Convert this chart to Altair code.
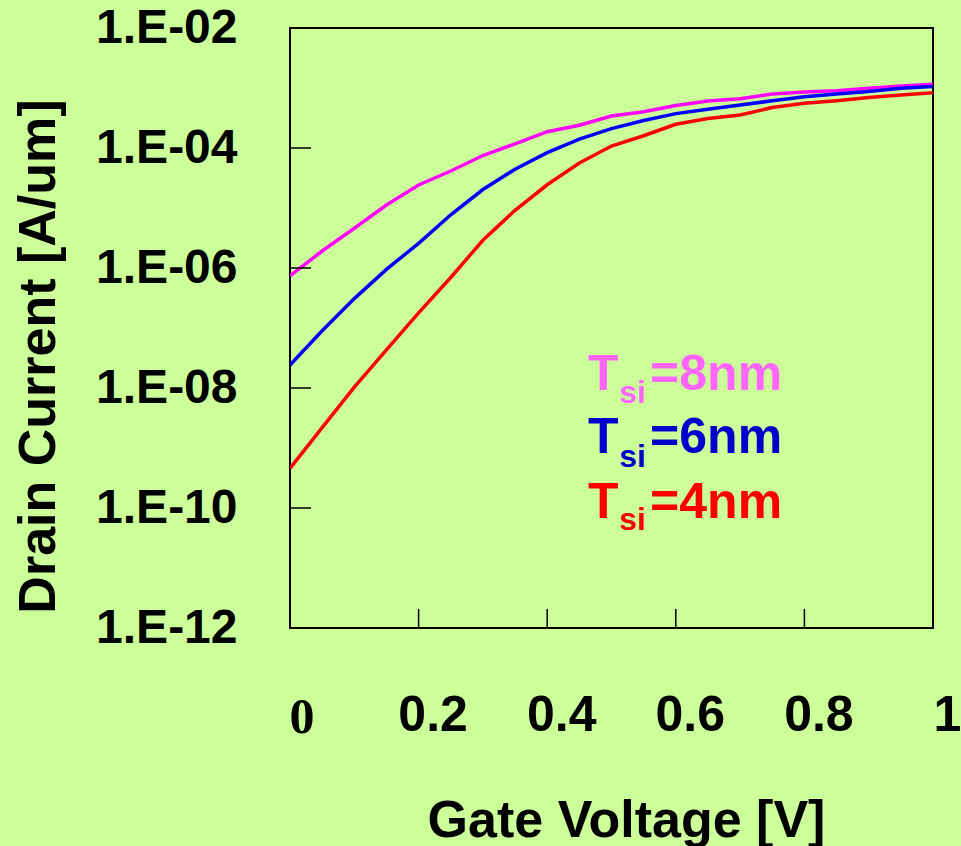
import altair as alt
import pandas as pd

# Gate voltage samples [V]
vg = [0.0, 0.05, 0.10, 0.15, 0.20, 0.25, 0.30, 0.35, 0.40, 0.45, 0.50,
      0.55, 0.60, 0.65, 0.70, 0.75, 0.80, 0.85, 0.90, 0.95, 1.00]

# Drain current [A/um]
i_8nm = [7.36e-7, 1.92e-6, 4.59e-6, 1.12e-5, 2.42e-5, 4.14e-5, 7.50e-5, 1.17e-4,
         1.87e-4, 2.39e-4, 3.41e-4, 4.03e-4, 5.11e-4, 6.07e-4, 6.64e-4, 7.94e-4,
         8.57e-4, 9.02e-4, 9.93e-4, 1.08e-3, 1.15e-3]
i_6nm = [2.42e-8, 9.02e-8, 3.09e-7, 9.48e-7, 2.58e-6, 7.70e-6, 2.03e-5, 4.43e-5,
         8.35e-5, 1.41e-4, 2.10e-4, 2.87e-4, 3.74e-4, 4.43e-4, 5.21e-4, 6.12e-4,
         7.16e-4, 7.94e-4, 8.77e-4, 9.89e-4, 1.06e-3]
i_4nm = [4.59e-10, 2.18e-9, 1.03e-8, 4.32e-8, 1.78e-7, 6.95e-7, 2.90e-6, 9.16e-6,
         2.44e-5, 5.62e-5, 1.08e-4, 1.60e-4, 2.49e-4, 3.09e-4, 3.55e-4, 4.73e-4,
         5.56e-4, 6.14e-4, 6.95e-4, 7.64e-4, 8.35e-4]

series = ["8nm", "6nm", "4nm"]
line_colors = ["#ff00ff", "#0000ff", "#ff0000"]
text_colors = ["#ff66ff", "#0000cc", "#ff0000"]

x_ticks = [0, 0.2, 0.4, 0.6, 0.8, 1]
y_ticks = [1e-12, 1e-10, 1e-8, 1e-6, 1e-4, 1e-2]

rows = []
for name, vals in zip(series, [i_8nm, i_6nm, i_4nm]):
    for v, i in zip(vg, vals):
        rows.append({"Vg": v, "Id": i, "series": name})
df = pd.DataFrame(rows)

FONT = "Liberation Sans"
xs = alt.Scale(domain=[0, 1], nice=False, zero=False)
ys = alt.Scale(type="log", domain=[1e-12, 1e-2], nice=False)

x_axis = alt.Axis(
    values=x_ticks, title="Gate Voltage [V]", grid=False, ticks=False,
    domain=False, labelFontSize=50, labelFontWeight="bold", labelColor="black",
    labelFont=FONT, labelPadding=62, labelOffset=14, format="~g",
    labelOverlap=False, labelBound=False, labelFlush=False,
    labelExpr="datum.value === 0 ? '' : datum.label",
    titleFont=FONT, titleFontSize=52, titleFontWeight="bold", titleColor="black",
    titleX=336, titleY=208, titleBaseline="alphabetic", titleAlign="center",
)
y_axis = alt.Axis(
    values=y_ticks, title="Drain Current [A/um]", grid=False, ticks=False,
    domain=False, labelFontSize=48, labelFontWeight="bold", labelColor="black",
    labelFont=FONT, labelPadding=53, labelBaseline="middle", labelAlign="right",
    labelOverlap=False, labelBound=False, labelFlush=False,
    labelExpr="'1.E-' + (-round(log(datum.value)/LN10) < 10 ? '0' : '') + (-round(log(datum.value)/LN10))",
    titleFont=FONT, titleFontSize=52, titleFontWeight="bold", titleColor="black",
    titleX=-252, titleY=328, titleAngle=270, titleBaseline="middle", titleAlign="center",
)

X = alt.X("Vg:Q", scale=xs, axis=x_axis)
Y = alt.Y("Id:Q", scale=ys, axis=y_axis)

lines = alt.Chart(df).mark_line(strokeWidth=3.5, clip=True).encode(
    x=X, y=Y,
    color=alt.Color("series:N", scale=alt.Scale(domain=series, range=line_colors), legend=None),
)

ytick_df = pd.DataFrame({"Id": y_ticks[1:-1]})
yticks = alt.Chart(ytick_df).mark_rule(color="black", strokeWidth=1.5).encode(
    y=Y, x=alt.value(0), x2=alt.value(21)
)
xtick_df = pd.DataFrame({"Vg": x_ticks[1:-1]})
xticks = alt.Chart(xtick_df).mark_rule(color="black", strokeWidth=1.5).encode(
    x=X, y=alt.value(600), y2=alt.value(581)
)

# the "0" tick label is set in a serif face in the original
zero_df = pd.DataFrame({"Vg": [0.0], "t": ["0"]})
zero_lbl = alt.Chart(zero_df).mark_text(
    align="center", baseline="alphabetic", font="Liberation Serif", fontSize=50,
    fontWeight="bold", color="black", dx=12
).encode(x=X, y=alt.value(705), text="t:N")

# legend annotation (T, subscript si, =Xnm), anchored in data coordinates
main_rows, sub_rows = [], []
base_y = [9.26e-9, 8.25e-10, 6.8e-11]
sub_y = [5.62e-9, 4.83e-10, 4.3e-11]
for name, col, by, sy in zip(series, text_colors, base_y, sub_y):
    main_rows.append({"t": "T", "Vg": 0.4635, "Id": by, "c": col})
    main_rows.append({"t": "=" + name, "Vg": 0.56, "Id": by, "c": col})
    sub_rows.append({"t": "si", "Vg": 0.512, "Id": sy, "c": col})

main_txt = alt.Chart(pd.DataFrame(main_rows)).mark_text(
    align="left", baseline="alphabetic", font=FONT, fontSize=50, fontWeight="bold"
).encode(x=X, y=Y, text="t:N", color=alt.Color("c:N", scale=None))
sub_txt = alt.Chart(pd.DataFrame(sub_rows)).mark_text(
    align="left", baseline="alphabetic", font=FONT, fontSize=32, fontWeight="bold"
).encode(x=X, y=Y, text="t:N", color=alt.Color("c:N", scale=None))

chart = alt.layer(lines, yticks, xticks, zero_lbl, main_txt, sub_txt).properties(
    width=643, height=600,
    background="#ccff99",
    padding={"left": 290, "top": 28, "right": 28, "bottom": 218},
    autosize=alt.AutoSizeParams(type="none"),
).configure_view(
    fill="#ccff99", stroke="black", strokeWidth=2
)

chart.save("out.html", embed_options={"renderer": "svg", "actions": False})
